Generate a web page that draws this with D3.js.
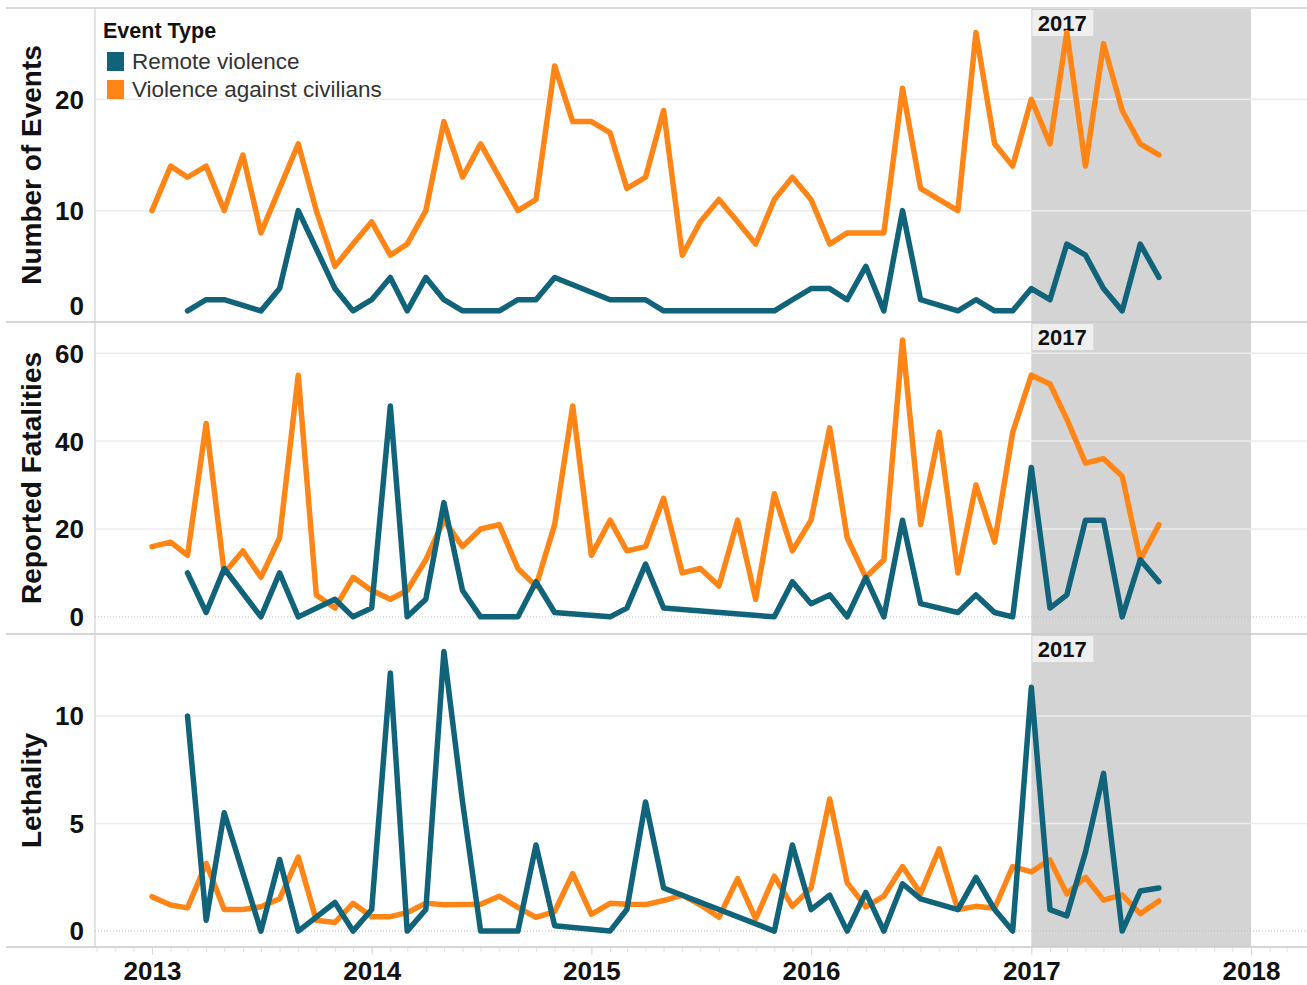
<!DOCTYPE html>
<html>
<head>
<meta charset="utf-8">
<script src="https://cdn.jsdelivr.net/npm/d3@7"></script>
<style>
  body { margin: 0; background: #fff; }
  svg { display: block; }
  text { font-family: "Liberation Sans", Arial, sans-serif; }
</style>
</head>
<body>
<div id="chart"></div>
<script>
// monthly series, Jan 2013 .. Aug 2017 (null = no remote violence that month)
var firstMonth = new Date(2013, 0, 1);
var yearTicks = [2013, 2014, 2015, 2016, 2017, 2018];
var highlightYear = 2017;
var seriesNames = ["Remote violence", "Violence against civilians"];

var civEvents = [
  10, 14, 13, 14, 10, 15, 8, 12, 16, 10, 5, 7,
  9, 6, 7, 10, 18, 13, 16, 13, 10, 11, 23, 18,
  18, 17, 12, 13, 19, 6, 9, 11, 9, 7, 11, 13,
  11, 7, 8, 8, 8, 21, 12, 11, 10, 26, 16, 14,
  20, 16, 26, 14, 25, 19, 16, 15];
var civFatalities = [
  16, 17, 14, 44, 10, 15, 9, 18, 55, 5, 2, 9,
  6, 4, 6, 13, 22, 16, 20, 21, 11, 7, 21, 48,
  14, 22, 15, 16, 27, 10, 11, 7, 22, 4, 28, 15,
  22, 43, 18, 9, 13, 63, 21, 42, 10, 30, 17, 42,
  55, 53, 45, 35, 36, 32, 13, 21];
var civLethality = [
  1.6, 1.21, 1.08, 3.14, 1.0, 1.0, 1.13, 1.5, 3.44, 0.5, 0.4, 1.29,
  0.67, 0.67, 0.86, 1.3, 1.22, 1.23, 1.25, 1.62, 1.1, 0.64, 0.91, 2.67,
  0.78, 1.29, 1.25, 1.23, 1.42, 1.67, 1.22, 0.64, 2.44, 0.57, 2.55, 1.15,
  2.0, 6.14, 2.25, 1.13, 1.63, 3.0, 1.75, 3.82, 1.0, 1.15, 1.06, 3.0,
  2.75, 3.31, 1.73, 2.5, 1.44, 1.68, 0.81, 1.4];

var remoteEvents = [
  null, null, 1, 2, 2, null, 1, 3, 10, null, 3, 1,
  2, 4, 1, 4, 2, 1, 1, 1, 2, 2, 4, null,
  null, 2, 2, 2, 1, null, null, null, null, null, 1, 2,
  3, 3, 2, 5, 1, 10, 2, null, 1, 2, 1, 1,
  3, 2, 7, 6, 3, 1, 7, 4];
var remoteFatalities = [
  null, null, 10, 1, 11, null, 0, 10, 0, null, 4, 0,
  2, 48, 0, 4, 26, 6, 0, 0, 0, 8, 1, null,
  null, 0, 2, 12, 2, null, null, null, null, null, 0, 8,
  3, 5, 0, 9, 0, 22, 3, null, 1, 5, 1, 0,
  34, 2, 5, 22, 22, 0, 13, 8];
var remoteLethality = [
  null, null, 10, 0.5, 5.5, null, 0, 3.33, 0, null, 1.33, 0,
  1, 12, 0, 1, 13, 6, 0, 0, 0, 4, 0.25, null,
  null, 0, 1, 6, 2, null, null, null, null, null, 0, 4,
  1, 1.67, 0, 1.8, 0, 2.2, 1.5, null, 1, 2.5, 1, 0,
  11.33, 1, 0.71, 3.67, 7.33, 0, 1.86, 2];

var colors = { remote: "#11637a", civ: "#ff8616" };

var panels = [
  { title: "Number of Events", top: 8, bottom: 322, domain: [0, 28.2], ticks: [0, 10, 20],
    civ: civEvents, remote: remoteEvents, zeroLine: false },
  { title: "Reported Fatalities", top: 322, bottom: 634, domain: [-3.9, 67.1], ticks: [0, 20, 40, 60],
    civ: civFatalities, remote: remoteFatalities, zeroLine: true },
  { title: "Lethality", top: 634, bottom: 947, domain: [-0.74, 13.81], ticks: [0, 5, 10],
    civ: civLethality, remote: remoteLethality, zeroLine: true }
];

var width = 1307, height = 985;
var paneLeft = 95, paneRight = 1307;

var svg = d3.select("#chart").append("svg")
    .attr("width", width)
    .attr("height", height);

var x = d3.scaleTime()
    .domain([new Date(2013, 0, 1), new Date(2018, 0, 1)])
    .range([152, 1251]);

function monthOf(i) { return d3.timeMonth.offset(firstMonth, i); }

panels.forEach(function(p) {
    var y = d3.scaleLinear().domain(p.domain).range([p.bottom, p.top]);
    var g = svg.append("g");

    // highlighted year band
    var bx0 = x(new Date(highlightYear, 0, 1)), bx1 = x(new Date(highlightYear + 1, 0, 1));
    g.append("rect")
        .attr("x", bx0).attr("y", p.top)
        .attr("width", bx1 - bx0).attr("height", p.bottom - p.top)
        .attr("fill", "#d4d4d4");

    // gridlines
    g.selectAll(".grid")
        .data(p.ticks.filter(function(t) { return t != 0; }))
        .enter().append("line")
        .attr("x1", paneLeft).attr("x2", paneRight)
        .attr("y1", function(d) { return y(d); })
        .attr("y2", function(d) { return y(d); })
        .attr("stroke", "#ececec")
        .attr("stroke-width", 1.5);

    if (p.zeroLine) {
        g.append("line")
            .attr("x1", paneLeft).attr("x2", paneRight)
            .attr("y1", y(0)).attr("y2", y(0))
            .attr("stroke", "#bdbdbd")
            .attr("stroke-width", 1)
            .attr("stroke-dasharray", "1,2");
    }

    // year label on band
    g.append("rect")
        .attr("x", bx0 + 1).attr("y", p.top + 2)
        .attr("width", 61).attr("height", 26)
        .attr("fill", "#efefef");
    g.append("text")
        .attr("x", bx0 + 31).attr("y", p.top + 15)
        .attr("text-anchor", "middle")
        .attr("dominant-baseline", "central")
        .attr("font-weight", "bold")
        .attr("font-size", 22)
        .attr("fill", "#111")
        .text(highlightYear);

    // y tick labels
    var yAxis = d3.axisLeft(y).tickValues(p.ticks).tickSize(0).tickPadding(0);
    var ax = g.append("g")
        .attr("transform", "translate(" + 84 + ",0)")
        .call(yAxis);
    ax.select(".domain").remove();
    ax.selectAll("text")
        .attr("font-family", null)
        .attr("font-weight", "bold")
        .attr("font-size", 26)
        .attr("fill", "#111")
        .attr("dy", null)
        .attr("dominant-baseline", "central")
        .attr("y", function(d) { return Math.min(0, (p.bottom - 17) - y(d)); });

    // axis title
    g.append("text")
        .attr("transform", "translate(31," + ((p.top + p.bottom) / 2) + ") rotate(-90)")
        .attr("text-anchor", "middle")
        .attr("dominant-baseline", "central")
        .attr("font-weight", "bold")
        .attr("font-size", 28)
        .attr("fill", "#111")
        .text(p.title);

    // lines
    var line = d3.line()
        .x(function(d) { return x(d.date); })
        .y(function(d) { return y(d.value); });

    [["civ", p.civ], ["remote", p.remote]].forEach(function(s) {
        var pts = [];
        s[1].forEach(function(v, i) {
            if (v != null) pts.push({ date: monthOf(i), value: v });
        });
        g.append("path")
            .datum(pts)
            .attr("d", line)
            .attr("fill", "none")
            .attr("stroke", colors[s[0]])
            .attr("stroke-width", 5.5)
            .attr("stroke-linejoin", "round")
            .attr("stroke-linecap", "round");
    });
});

// frame lines
[8, 322, 634, 947].forEach(function(yy, i) {
    svg.append("line")
        .attr("x1", 6).attr("x2", width)
        .attr("y1", yy).attr("y2", yy)
        .attr("stroke", i == 0 ? "#dcdcdc" : "#c8c8c8")
        .attr("stroke-width", i == 0 ? 2 : 1.5);
});
svg.append("line")
    .attr("x1", paneLeft).attr("x2", paneLeft)
    .attr("y1", 8).attr("y2", 947)
    .attr("stroke", "#c8c8c8")
    .attr("stroke-width", 1);

// x axis: month minor ticks and year labels
var minor = d3.axisBottom(x)
    .tickValues(d3.timeMonth.range(new Date(2012, 9, 1), new Date(2018, 3, 1)))
    .tickSize(4).tickFormat("");
var minorG = svg.append("g").attr("transform", "translate(0,948)").call(minor);
minorG.select(".domain").remove();
minorG.selectAll("line").attr("stroke", "#e2e2e2");

var xAxis = d3.axisBottom(x)
    .tickValues(yearTicks.map(function(yr) { return new Date(yr, 0, 1); }))
    .tickSize(7)
    .tickFormat(d3.timeFormat("%Y"));
var xg = svg.append("g").attr("transform", "translate(0,948)").call(xAxis);
xg.select(".domain").remove();
xg.selectAll("line").attr("stroke", "#dadada");
xg.selectAll("text")
    .attr("font-family", null)
    .attr("font-weight", "bold")
    .attr("font-size", 26)
    .attr("fill", "#111")
    .attr("dy", null)
    .attr("y", 23)
    .attr("dominant-baseline", "central");

// legend
var legend = svg.append("g");
legend.append("text")
    .attr("x", 103).attr("y", 31)
    .attr("dominant-baseline", "central")
    .attr("font-weight", "bold")
    .attr("font-size", 21.5)
    .attr("fill", "#111")
    .text("Event Type");
seriesNames.forEach(function(name, i) {
    var cy = 61 + i * 28;
    legend.append("rect")
        .attr("x", 107).attr("y", cy - 9)
        .attr("width", 17).attr("height", 19)
        .attr("fill", i == 0 ? colors.remote : colors.civ);
    legend.append("text")
        .attr("x", 132).attr("y", cy)
        .attr("dominant-baseline", "central")
        .attr("font-size", 22.5)
        .attr("fill", "#333")
        .text(name);
});
</script>
</body>
</html>
